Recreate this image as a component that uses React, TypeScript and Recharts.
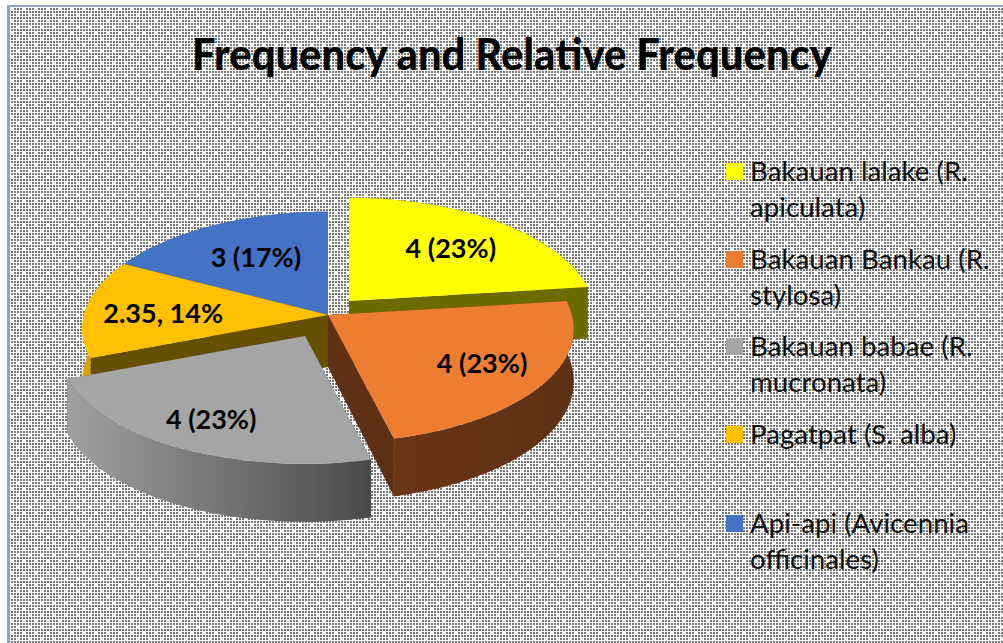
import { Legend, Pie, PieChart } from 'recharts';

const species = [
  'Bakauan lalake (R. apiculata)',
  'Bakauan Bankau (R. stylosa)',
  'Bakauan babae (R. mucronata)',
  'Pagatpat (S. alba)',
  'Api-api (Avicennia officinales)',
];
const frequency = [4, 4, 4, 2.35, 3];
const dataLabels = ['4 (23%)', '4 (23%)', '4 (23%)', '2.35, 14%', '3 (17%)'];
const colors = ['#ffff00', '#ed7d31', '#a5a5a5', '#ffc000', '#4472c4'];
const outerWalls = ['#6b6b00', 'url(#orangeWall)', 'url(#grayWall)', '#dba500', '#2f4f88'];
const cutWalls = ['#6b6b00', '#5f3114', '#555555', '#665000', '#2f4f88'];

const tableData = species.map((name, i) => ({ name, value: frequency[i], fill: colors[i] }));

// how the flat pie is tipped back into perspective
const TILT = 0.4735;
const PERSP_Y = 0.106;
const PERSP_X = 0.12;
const RADIUS = 244;
const explode = [
  [21, -14],
  [0, 0],
  [-23, 21],
  [0, 0],
  [0, 0],
];
const labelAt = [0.67, 0.73, 0.77, 0.68, 0.61];
const labelNudge = [1, -2, -2, 2, -2];
// paint order: blue and yellow at the back, then gold, then orange and gray
const sliceLayers = [0, 2, 2, 1, 0];

function project(cx: number, cy: number, r: number, deg: number, f = 1, down = false) {
  const theta = ((90 - deg) * Math.PI) / 180;
  const s = Math.sin(theta) * f;
  const v = -Math.cos(theta) * f;
  return {
    x: cx + r * s * (1 + PERSP_X * v),
    y: cy + r * TILT * v * (1 + PERSP_Y * v) + (down ? 52 + 6 * v : 0),
  };
}

const toPath = (pts: { x: number; y: number }[]) =>
  'M' + pts.map((p) => `${p.x.toFixed(1)},${p.y.toFixed(1)}`).join('L') + 'Z';

function arcAngles(start: number, end: number) {
  const out: number[] = [];
  const n = Math.max(2, Math.ceil(Math.abs(end - start) / 1.5));
  for (let i = 0; i <= n; i++) out.push(start + ((end - start) * i) / n);
  return out;
}

function Slice(props: any, layer: number) {
  const { cx, cy, outerRadius, startAngle, endAngle, name } = props;
  const idx = species.indexOf(name);
  if (sliceLayers[idx] !== layer) return <g />;
  const ox = cx + explode[idx][0];
  const oy = cy + explode[idx][1];
  const angles = arcAngles(startAngle, endAngle);
  const rim = angles.map((a) => project(ox, oy, outerRadius, a));
  const rimLow = angles.map((a) => project(ox, oy, outerRadius, a, 1, true)).reverse();
  const apex = { x: ox, y: oy };
  const apexLow = project(ox, oy, outerRadius, startAngle, 0, true);
  const first = rim[0];
  const last = rim[rim.length - 1];
  const firstLow = project(ox, oy, outerRadius, startAngle, 1, true);
  const lastLow = project(ox, oy, outerRadius, endAngle, 1, true);
  return (
    <g>
      <path d={toPath([apex, first, firstLow, apexLow])} fill={cutWalls[idx]} />
      <path d={toPath([apex, last, lastLow, apexLow])} fill={cutWalls[idx]} />
      <path d={toPath([...rim, ...rimLow])} fill={outerWalls[idx]} />
      <path d={toPath([apex, ...rim])} fill={colors[idx]} />
    </g>
  );
}

function SliceLabel(props: any) {
  const { cx, cy, outerRadius, midAngle, index } = props;
  const p = project(cx + explode[index][0], cy + explode[index][1], outerRadius, midAngle, labelAt[index]);
  return (
    <text
      x={p.x}
      y={p.y + labelNudge[index]}
      textAnchor="middle"
      dominantBaseline="central"
      fontFamily="Lato, sans-serif"
      fontWeight={700}
      fontSize={27}
      fill="#000"
    >
      {dataLabels[index]}
    </text>
  );
}

const legendTops = [0, 88, 175, 263, 352];

function SpeciesLegend() {
  return (
    <div style={{ position: 'relative', width: 277, height: 430 }}>
      {species.map((name, i) => (
        <div
          key={name}
          style={{
            position: 'absolute',
            top: legendTops[i],
            left: 0,
            width: 255,
            paddingLeft: 24,
            fontFamily: 'Lato, sans-serif',
            fontSize: 27.7,
            lineHeight: '36px',
            color: '#111',
          }}
        >
          <span
            style={{
              position: 'absolute',
              left: 0,
              top: 10,
              width: 17,
              height: 17,
              background: colors[i],
            }}
          />
          {name}
        </div>
      ))}
    </div>
  );
}

function Backdrop() {
  const cells: { x: number; y: number }[] = [];
  for (let i = 0; i < 4; i++) {
    for (let j = 0; j < 4; j++) {
      if ((i === 0 && j === 0) || (i === 2 && j === 2)) continue;
      cells.push({ x: i * 3, y: j * 3 });
    }
  }
  return (
    <svg width={1003} height={643} style={{ position: 'absolute', left: 0, top: 0 }}>
      <defs>
        <pattern id="dither" width={12} height={12} patternUnits="userSpaceOnUse" x={11} y={8}>
          <rect width={12} height={12} fill="#fff" />
          {cells.map((c) => (
            <rect key={`${c.x}-${c.y}`} x={c.x} y={c.y} width={2} height={2} fill="#7a7a7a" />
          ))}
        </pattern>
      </defs>
      <rect x={7} y={5} width={996} height={638} fill="#8ea4c2" />
      <rect x={10} y={7} width={993} height={636} fill="url(#dither)" />
    </svg>
  );
}

export default function App() {
  const layers = [0, 1, 2];
  return (
    <div style={{ position: 'absolute', left: 0, top: 0, width: 1003, height: 643, overflow: 'hidden' }}>
      <Backdrop />
      <div style={{ position: 'absolute', left: 0, top: 0 }}>
        <PieChart width={1003} height={643} margin={{ top: 0, right: 0, bottom: 0, left: 0 }}>
          <defs>
            <linearGradient id="grayWall" x1="0" y1="0" x2="1" y2="0">
              <stop offset="0%" stopColor="#a0a0a0" />
              <stop offset="100%" stopColor="#4a4a4a" />
            </linearGradient>
            <linearGradient id="orangeWall" x1="0" y1="0" x2="1" y2="0">
              <stop offset="0%" stopColor="#6a3616" />
              <stop offset="100%" stopColor="#5c3013" />
            </linearGradient>
          </defs>
          <text
            x={512}
            y={53}
            textAnchor="middle"
            dominantBaseline="central"
            fontFamily="Lato, sans-serif"
            fontWeight={900}
            fontSize={44}
            fill="#000"
            textLength={640}
            lengthAdjust="spacingAndGlyphs"
          >
            Frequency and Relative Frequency
          </text>
          {layers.map((layer) => (
            <Pie
              key={layer}
              data={tableData}
              dataKey="value"
              nameKey="name"
              cx={328}
              cy={315}
              outerRadius={RADIUS}
              startAngle={90}
              endAngle={-270}
              stroke="none"
              legendType={layer === 0 ? undefined : 'none'}
              isAnimationActive={false}
              shape={(p: any) => Slice(p, layer)}
              label={layer === 2 ? SliceLabel : false}
              labelLine={false}
            />
          ))}
          <Legend
            content={<SpeciesLegend />}
            wrapperStyle={{ position: 'absolute', left: 726, top: 153, width: 277, bottom: 'auto', right: 'auto' }}
          />
        </PieChart>
      </div>
    </div>
  );
}
